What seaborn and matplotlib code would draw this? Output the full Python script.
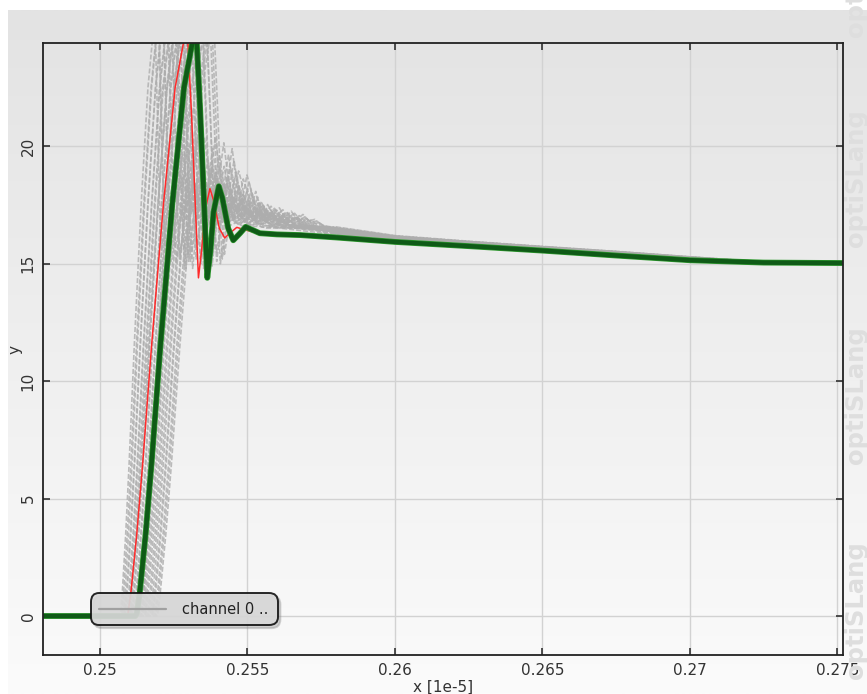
import numpy as np
import pandas as pd
import matplotlib
matplotlib.use("Agg")
import matplotlib.pyplot as plt
import seaborn as sns
from matplotlib.colors import LinearSegmentedColormap
from matplotlib.lines import Line2D

# ---------------- data ----------------
# Bold green reference response
green_x = [0.2480, 0.2512, 0.25125, 0.25135, 0.25155, 0.25175, 0.25205, 0.25245, 0.25285,
           0.25325, 0.2534, 0.25355, 0.25364, 0.25375, 0.25385, 0.25403, 0.25415, 0.25435,
           0.25452, 0.25475, 0.25494, 0.25515, 0.25542, 0.2560, 0.2568, 0.2580, 0.2600,
           0.2625, 0.2650, 0.2675, 0.2700, 0.2725, 0.2752]
green_y = [0, 0, 0.1, 1.0, 3.5, 6.5, 11.5, 17.5, 22.5,
           25.2, 21.5, 17.0, 14.4, 15.6, 17.2, 18.3, 17.8, 16.5,
           16.0, 16.3, 16.57, 16.45, 16.3, 16.25, 16.22, 16.12, 15.93,
           15.75, 15.56, 15.35, 15.15, 15.05, 15.03]

# Thin red response
red_x = [0.2480, 0.2509, 0.25095, 0.25105, 0.25125, 0.25145, 0.25175, 0.25215, 0.25255,
         0.25295, 0.2531, 0.25325, 0.25334, 0.25345, 0.25355, 0.25373, 0.25385, 0.25405,
         0.25423, 0.25445, 0.25464, 0.2549, 0.2552, 0.2560, 0.2568, 0.2580, 0.2600,
         0.2625, 0.2650, 0.2675, 0.2700, 0.2725, 0.2752]
red_y = [0, 0, 0.1, 1.0, 3.5, 6.5, 11.5, 17.5, 22.5,
         25.2, 21.5, 17.0, 14.4, 15.6, 17.2, 18.2, 17.7, 16.5,
         16.1, 16.35, 16.55, 16.45, 16.35, 16.27, 16.22, 16.12, 15.93,
         15.75, 15.56, 15.35, 15.15, 15.05, 15.03]

# Grey bundle: shared rise shape, ringing shape and tail
rise_dt = [0, 0.0001, 0.0003, 0.0005, 0.0008, 0.0012, 0.0016, 0.0020, 0.00215, 0.0023]
rise_val = [0, 1.0, 3.5, 6.5, 11.5, 17.5, 22.5, 25.6, 21.5, 17.0]
first_min_dt = 0.00239
ring_dt = [0, 0.0001, 0.0002, 0.0003, 0.0004, 0.0005, 0.0006, 0.0007, 0.0008, 0.0009,
           0.0010, 0.0011, 0.0012, 0.0013, 0.0014, 0.0015, 0.0016, 0.0018, 0.0020,
           0.0022, 0.0024, 0.0026, 0.0028, 0.0030, 0.0032, 0.0034]
ring_off = [-1.0, -0.2, 0.9, 1.9, 2.5, 1.8, 1.3, 0.8, 1.2, 1.7, 1.4, 0.9, 1.2, 0.7,
            0.9, 0.5, 0.8, 0.5, 0.7, 0.4, 0.6, 0.35, 0.5, 0.3, 0.35, 0.2]
ring_base = 16.4
tail_x = [0.2580, 0.2600, 0.2625, 0.2650, 0.2675, 0.2700, 0.2725, 0.2752]
tail_y = [16.12, 15.93, 15.75, 15.56, 15.35, 15.15, 15.05, 15.03]
tail_off = [0.30, 0.18, 0.14, 0.12, 0.12, 0.10, 0.02, 0.0]

# per-run start, time scale, ringing amplitude, tail spread
gray_t0 = [0.25070, 0.25074, 0.25079, 0.25083, 0.25086, 0.25091, 0.25095, 0.25098,
           0.25103, 0.25107, 0.25110, 0.25115, 0.25118, 0.25123, 0.25127, 0.25130,
           0.25134, 0.25139, 0.25142, 0.25146, 0.25151, 0.25155, 0.25161, 0.25165,
           0.25171, 0.25176, 0.25180, 0.25186, 0.25190, 0.25195, 0.25100, 0.25140]
gray_k = [0.58, 0.62, 0.60, 0.66, 0.64, 0.70, 0.67, 0.72, 0.70, 0.75, 0.73, 0.78,
          0.76, 0.80, 0.77, 0.82, 0.80, 0.85, 0.83, 0.86, 0.84, 0.88, 0.86, 0.90,
          0.88, 0.92, 0.90, 0.93, 0.94, 0.95, 0.80, 0.70]
gray_a = [0.8, 1.1, 0.6, 1.3, 0.9, 1.4, 0.7, 1.2, 1.0, 1.5, 0.8, 1.3, 1.1, 1.6, 0.9,
          1.2, 0.7, 1.4, 1.2, 1.6, 1.0, 1.3, 0.8, 1.5, 1.1, 1.3, 0.9, 1.4, 1.2, 1.0, 1.6, 1.3]
gray_f = [1.2, 0.8, 1.5, 0.6, 1.0, 1.3, 0.4, 0.9, 1.1, 0.7, 1.4, 0.5, 1.0, 1.2, 0.8,
          0.3, 1.1, 0.9, 1.3, 0.6, 1.0, 0.7, 1.2, 0.5, 0.9, 1.4, 0.8, 0.6, 1.1, 1.0, 0.7, 1.2]

x_ticks = [0.25, 0.255, 0.26, 0.265, 0.27, 0.275]
x_tick_labels = ["0.25", "0.255", "0.26", "0.265", "0.27", "0.275"]
y_ticks = [0, 5, 10, 15, 20]
legend_label = "channel 0 .."
watermark = "optiSLang"

# ---------------- build tables ----------------
rows = []
for i, (t0, k, a, f) in enumerate(zip(gray_t0, gray_k, gray_a, gray_f)):
    rows.append((i, 0.2480, 0.0))
    for d, v in zip(rise_dt, rise_val):
        rows.append((i, t0 + k * d, v))
    tm = t0 + k * first_min_dt
    for d, o in zip(ring_dt, ring_off):
        rows.append((i, tm + d, ring_base + a * o))
    for tx, ty, to in zip(tail_x, tail_y, tail_off):
        rows.append((i, tx, ty + f * to))
gray_df = pd.DataFrame(rows, columns=["run", "x", "y"])
red_df = pd.DataFrame({"x": red_x, "y": red_y})
green_df = pd.DataFrame({"x": green_x, "y": green_y})

# ---------------- figure ----------------
sns.set_style("white")
plt.rcParams["font.family"] = ["DejaVu Sans"]

W, H = 867, 694
fig = plt.figure(figsize=(W / 100, H / 100), dpi=100)
fig.patch.set_facecolor("white")

# gradient background
bg = fig.add_axes([8 / W, 0, 1 - 8 / W, 1 - 10 / H], zorder=-10)
grad = np.linspace(0, 1, 256).reshape(-1, 1)
cmap = LinearSegmentedColormap.from_list("bg", ["#fbfbfb", "#e3e3e3"])
bg.imshow(grad, aspect="auto", cmap=cmap, origin="lower", extent=[0, 1, 0, 1])
bg.set_axis_off()

# watermark
for yc in [-32, 178, 395, 610]:
    fig.text(856 / W, 1 - yc / H, watermark, rotation=90, ha="center", va="center",
             fontsize=17.5, fontweight="bold", color="#dedede")

ax = fig.add_axes([42.7 / W, 1 - 655 / H, 800 / W, 612 / H])
ax.set_facecolor("none")

sns.lineplot(data=gray_df, x="x", y="y", units="run", estimator=None, sort=False,
             color="#adadad", linewidth=1.2, alpha=0.8, linestyle=(0, (3, 1.2)),
             ax=ax, legend=False)
sns.lineplot(data=red_df, x="x", y="y", sort=False, estimator=None,
             color="#ff2a2a", linewidth=1.1, ax=ax, legend=False)
sns.lineplot(data=green_df, x="x", y="y", sort=False, estimator=None,
             color="#2e9a2e", linewidth=4.2, ax=ax, legend=False)
sns.lineplot(data=green_df, x="x", y="y", sort=False, estimator=None,
             color="#0f5a17", linewidth=3.2, ax=ax, legend=False)

ax.set_xlim(0.24806, 0.27518)
ax.set_ylim(-1.66, 24.4)
ax.set_xticks(x_ticks)
ax.set_xticklabels(x_tick_labels)
ax.set_yticks(y_ticks)
ax.grid(True, color="#d2d2d2", linewidth=1.0)
ax.set_axisbelow(True)

for s in ax.spines.values():
    s.set_visible(True)
    s.set_color("#222222")
    s.set_linewidth(1.3)

ax.tick_params(axis="both", direction="in", length=5, width=1.1, colors="#222222",
               top=True, right=True, bottom=True, left=True, labelsize=11,
               labelcolor="#333333")
ax.tick_params(axis="x", pad=6)
ax.tick_params(axis="y", labelrotation=90, pad=5)
for lab in ax.get_yticklabels():
    lab.set_va("center")

ax.set_xlabel("x [1e-5]", fontsize=11, color="#333333", labelpad=1)
ax.set_ylabel("y", fontsize=11, color="#333333", labelpad=-1)

# legend
handle = Line2D([], [], color="#a0a0a0", linewidth=1.6)
leg = ax.legend([handle], [legend_label], loc="lower left",
                bbox_to_anchor=((95 - 42.7) / 800, (655 - 621) / 612),
                borderaxespad=0, fontsize=10.5, frameon=True, fancybox=True,
                shadow={"color": "#888888", "alpha": 0.35}, handlelength=4.6,
                handletextpad=1.1, borderpad=0.3, labelcolor="#222222")
frame = leg.get_frame()
frame.set_facecolor("#d9d9d9")
frame.set_alpha(0.9)
frame.set_edgecolor("#111111")
frame.set_linewidth(1.4)
frame.set_boxstyle("round,pad=0.3,rounding_size=0.6")

fig.savefig("out.png", dpi=100)
